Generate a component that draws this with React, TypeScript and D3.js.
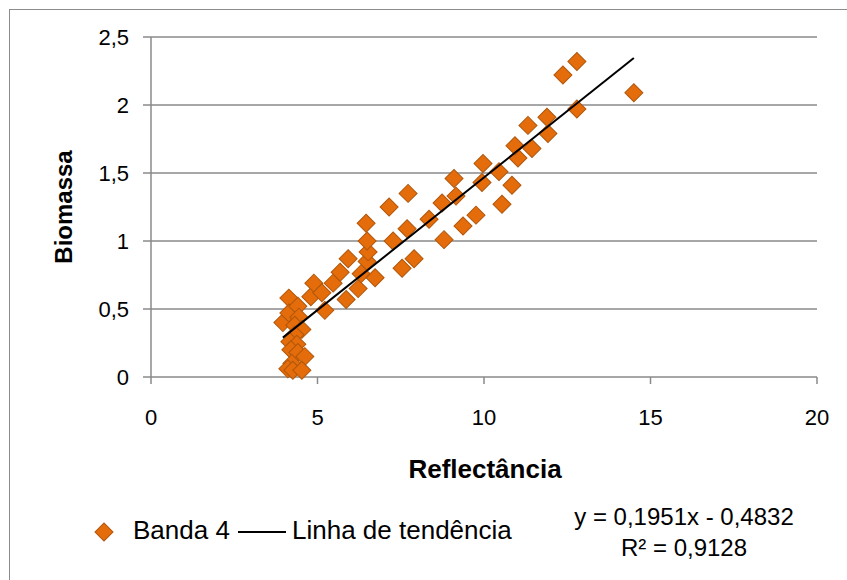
import React from 'react';
import * as d3 from 'd3';

// Banda 4 – reflectância (x) vs biomassa (y)
const reflectancia = [
  3.96, 4.14, 4.14, 4.41, 4.44, 4.32, 4.53, 4.32, 4.17, 4.38,
  4.2, 4.41, 4.62, 4.23, 4.11, 4.26, 4.53, 4.8, 4.89, 5.13,
  5.22, 5.47, 5.68, 5.86, 5.92, 6.22, 6.31, 6.49, 6.52, 6.49,
  6.46, 6.73, 7.15, 7.27, 7.54, 7.69, 7.72, 7.9, 8.35, 8.74,
  8.8, 9.1, 9.16, 9.37, 9.76, 9.94, 9.97, 10.45, 10.54, 10.84,
  11.02, 10.93, 11.44, 11.32, 11.92, 11.89, 12.79, 12.37, 12.79, 14.5,
];
const biomassa = [
  0.4, 0.58, 0.47, 0.52, 0.44, 0.38, 0.35, 0.31, 0.26, 0.24,
  0.2, 0.18, 0.15, 0.1, 0.06, 0.05, 0.05, 0.59, 0.69, 0.62,
  0.49, 0.69, 0.77, 0.57, 0.87, 0.65, 0.76, 0.85, 0.92, 1.0,
  1.13, 0.73, 1.25, 1.0, 0.8, 1.09, 1.35, 0.87, 1.16, 1.28,
  1.01, 1.46, 1.33, 1.11, 1.19, 1.43, 1.57, 1.51, 1.27, 1.41,
  1.61, 1.7, 1.68, 1.85, 1.79, 1.91, 1.97, 2.22, 2.32, 2.09,
];

const xTicks = [0, 5, 10, 15, 20];
const yTicks = [0, 0.5, 1, 1.5, 2, 2.5];

// linha de tendência (Excel)
const slope = 0.1951;
const intercept = -0.4832;
const eqLabel = 'y = 0,1951x - 0,4832';
const r2Label = 'R² = 0,9128';

const W = 847;
const H = 580;
const FONT = "'Liberation Sans', Arial, sans-serif";
const ORANGE = '#E46C0A';
const ORANGE_DARK = '#B0570C';
const GRID = '#8a8a8a';

const fmt = (v: number) => String(v).replace('.', ',');

export default function App() {
  const x = d3.scaleLinear().domain([0, 20]).range([151, 817]);
  const y = d3.scaleLinear().domain([0, 2.5]).range([377, 37]);

  const points = reflectancia.map((r, i) => ({ x: r, y: biomassa[i] }));
  const [xmin, xmax] = d3.extent(reflectancia) as [number, number];
  const trend = d3.line<number>()
    .x(d => x(d))
    .y(d => y(slope * d + intercept))([xmin, xmax]);

  const diamond = d3.symbol(d3.symbolSquare, 162)() as string;

  return (
    <svg width={W} height={H} style={{ position: 'absolute', left: 0, top: 0, background: '#fff' }}
      fontFamily={FONT}>
      {/* chart frame */}
      <rect x={9.5} y={9.5} width={W + 20} height={H + 20} fill="#fff" stroke="#8c8c8c" strokeWidth={1} />

      {/* grid */}
      {yTicks.map(t => (
        <line key={'g' + t} x1={143} x2={x(20)} y1={y(t)} y2={y(t)} stroke={GRID} strokeWidth={1.5} />
      ))}
      {/* y axis */}
      <line x1={x(0)} x2={x(0)} y1={y(2.5)} y2={y(0)} stroke={GRID} strokeWidth={1.5} />
      {/* x ticks */}
      {xTicks.map(t => (
        <line key={'xt' + t} x1={x(t)} x2={x(t)} y1={y(0)} y2={y(0) + 7} stroke={GRID} strokeWidth={1.5} />
      ))}

      {yTicks.map(t => (
        <text key={'yl' + t} x={129} y={y(t)} dy="0.36em" textAnchor="end" fontSize={22} fill="#000">
          {fmt(t)}
        </text>
      ))}
      {xTicks.map(t => (
        <text key={'xl' + t} x={x(t)} y={425} textAnchor="middle" fontSize={22} fill="#000">
          {fmt(t)}
        </text>
      ))}

      {/* points */}
      {points.map((p, i) => (
        <path key={'p' + i} d={diamond} transform={`translate(${x(p.x)},${y(p.y)}) rotate(45)`}
          fill={ORANGE} stroke={ORANGE_DARK} strokeWidth={1} />
      ))}

      {/* trend line */}
      <path d={trend ?? ''} fill="none" stroke="#000" strokeWidth={2} />

      {/* axis titles */}
      <text x={485} y={478} textAnchor="middle" fontSize={26} fontWeight="bold">Reflectância</text>
      <text transform={`translate(72,${(y(0) + y(2.5)) / 2}) rotate(-90)`} textAnchor="middle"
        fontSize={24} fontWeight="bold">Biomassa</text>

      {/* legend */}
      <path d={diamond} transform="translate(104,532) rotate(45)" fill={ORANGE} stroke={ORANGE_DARK} strokeWidth={1} />
      <text x={133} y={539} fontSize={26}>Banda 4</text>
      <line x1={238} x2={286} y1={532} y2={532} stroke="#000" strokeWidth={2} />
      <text x={292} y={539} fontSize={26}>Linha de tendência</text>

      {/* equation */}
      <text x={684} y={525} textAnchor="middle" fontSize={24}>{eqLabel}</text>
      <text x={684} y={556} textAnchor="middle" fontSize={24}>{r2Label}</text>
    </svg>
  );
}
